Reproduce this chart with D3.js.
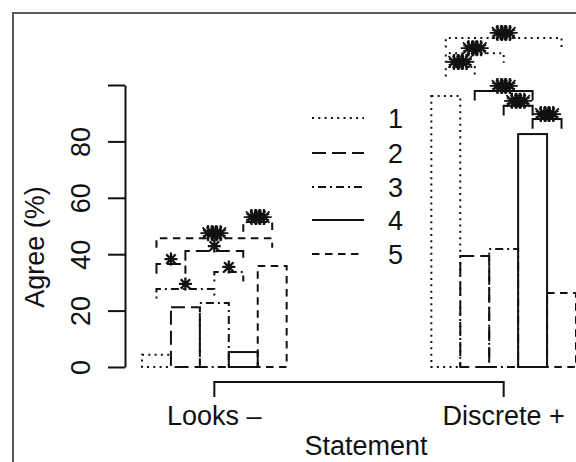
<!DOCTYPE html>
<html>
<head>
<meta charset="utf-8">
<script src="https://cdn.jsdelivr.net/npm/d3@7"></script>
<style>
  html, body { margin: 0; padding: 0; background: #fff; }
  svg { display: block; }
  text { font-family: "Liberation Sans", Arial, Helvetica, sans-serif; fill: #111; }
</style>
</head>
<body>
<svg id="chart" width="576" height="462"></svg>
<script>
// Statements and response groups
const categories = ["Looks \u2013", "Discrete +"];
const seriesNames = ["1", "2", "3", "4", "5"];

// Percent agreeing, per statement, for groups 1..5
const looksValues    = [4.3, 21.2, 22.7, 5.3, 35.8];
const discreteValues = [96.1, 39.4, 41.8, 82.6, 26.2];

// Y axis ticks
const yTickValues = [0, 20, 40, 60, 80, 100];
const yTickLabels = ["0", "20", "40", "60", "80", ""];

// Pairwise comparisons: [from group, to group, bracket height (%), significance]
const looksPairs = [
  [1, 2, 36.5, "*"],
  [1, 3, 27.7, "*"],
  [2, 4, 41.1, "*"],
  [3, 4, 33.7, "*"],
  [1, 5, 45.7, "***"],
  [4, 5, 51.4, "***"]
];
const discretePairs = [
  [1, 5, 116.7, "***"],
  [1, 3, 111.3, "***"],
  [1, 2, 106.4, "***"],
  [2, 4, 97.9, "***"],
  [3, 4, 92.6, "***"],
  [4, 5, 87.9, "***"]
];

const valuesByCategory = [looksValues, discreteValues];
const pairsByCategory = [looksPairs, discretePairs];

// Line type for each group: dotted, long dash, dot-dash, solid, dashed
const dashes = ["2,4.3", "14,6", "2,4,8,4", null, "7.5,5.5"];

const svg = d3.select("#chart");
const FONT = 27;

// Outer frame
svg.append("rect")
  .attr("x", 13).attr("y", 13).attr("width", 620).attr("height", 520)
  .attr("fill", "none").attr("stroke", "#5a5a5a").attr("stroke-width", 2);

const x0 = d3.scaleBand().domain(categories).range([142, 576]).paddingInner(0.5).paddingOuter(0);
const x1 = d3.scaleBand().domain(seriesNames).range([0, x0.bandwidth()]).padding(0);
const y = d3.scaleLinear().domain([0, 100]).range([367, 85]);

const ink = "#111";

// Bars: open rectangles outlined in each group's line type
categories.forEach((cat, ci) => {
  const g = svg.append("g").attr("transform", `translate(${x0(cat)},0)`);
  g.selectAll("rect")
    .data(valuesByCategory[ci].map((v, i) => ({ v, name: seriesNames[i], i })))
    .join("rect")
    .attr("x", d => x1(d.name))
    .attr("y", d => y(d.v))
    .attr("width", x1.bandwidth())
    .attr("height", d => y(0) - y(d.v))
    .attr("fill", "none")
    .attr("stroke", ink)
    .attr("stroke-width", 2)
    .attr("stroke-dasharray", d => dashes[d.i]);
});

// Asterisk glyph (plus and cross superimposed)
function starPath(r) {
  const d = r * 0.72;
  return `M${-r},0L${r},0M0,${-r}L0,${r}M${-d},${-d}L${d},${d}M${-d},${d}L${d},${-d}`;
}

// Significance brackets between pairs of groups
categories.forEach((cat, ci) => {
  const vals = valuesByCategory[ci];
  const g = svg.append("g");
  pairsByCategory[ci].forEach(([a, b, level, sig]) => {
    const xa = x0(cat) + x1(seriesNames[a - 1]) + x1.bandwidth() / 2;
    const xb = x0(cat) + x1(seriesNames[b - 1]) + x1.bandwidth() / 2;
    const top = y(level), leg = y(level - 3.4);
    const styleIdx = vals[a - 1] >= vals[b - 1] ? a - 1 : b - 1;
    g.append("path")
      .attr("d", `M${xa},${leg}L${xa},${top}L${xb},${top}L${xb},${leg}`)
      .attr("fill", "none").attr("stroke", ink).attr("stroke-width", 2)
      .attr("stroke-dasharray", dashes[styleIdx]);
    const cx = (xa + xb) / 2, cy = top - 5;
    if (sig.length === 1) {
      g.append("path")
        .attr("d", starPath(6.5))
        .attr("transform", `translate(${cx},${cy})`)
        .attr("fill", "none").attr("stroke", ink).attr("stroke-width", 2.3);
    } else {
      // several superimposed asterisks form the heavy mark
      const offsets = [-6, -4, -2, 0, 2, 4, 6];
      g.append("ellipse")
        .attr("cx", cx).attr("cy", cy).attr("rx", 9).attr("ry", 4.5)
        .attr("fill", ink);
      offsets.forEach((dx, k) => {
        g.append("path")
          .attr("d", starPath(8))
          .attr("transform", `translate(${cx + dx},${cy}) rotate(${k % 2 ? 22.5 : 0})`)
          .attr("fill", "none").attr("stroke", ink).attr("stroke-width", 1.8);
      });
    }
  });
});

// Y axis
const yAxis = d3.axisLeft(y)
  .tickValues(yTickValues)
  .tickFormat((d, i) => yTickLabels[i])
  .tickSize(17)
  .tickSizeOuter(0);
const ya = svg.append("g").attr("transform", "translate(125,0)").call(yAxis);
ya.select(".domain").attr("stroke", ink).attr("stroke-width", 2);
ya.selectAll(".tick line").attr("stroke", ink).attr("stroke-width", 2);
ya.selectAll(".tick text")
  .attr("x", 0).attr("y", 0).attr("dy", "0.36em")
  .attr("transform", "translate(-45,0) rotate(-90)")
  .attr("text-anchor", "middle")
  .style("font-size", FONT + "px")
  .style("font-family", "'Liberation Sans', Arial, sans-serif")
  .attr("fill", ink);

svg.append("text")
  .attr("transform", "translate(34,247) rotate(-90)")
  .attr("dy", "0.36em")
  .attr("text-anchor", "middle")
  .style("font-size", FONT + "px")
  .text("Agree (%)");

// X axis: line between the statement centres, ticks downward
const xCenters = categories.map(c => x0(c) + x0.bandwidth() / 2);
const xa = svg.append("g");
xa.append("path")
  .attr("d", `M${xCenters[0]},397L${xCenters[0]},382L${xCenters[1]},382L${xCenters[1]},397`)
  .attr("fill", "none").attr("stroke", ink).attr("stroke-width", 2);
xa.selectAll("text.cat")
  .data(categories)
  .join("text")
  .attr("class", "cat")
  .attr("x", (d, i) => xCenters[i])
  .attr("y", 425)
  .attr("text-anchor", "middle")
  .style("font-size", FONT + "px")
  .text(d => d);

svg.append("text")
  .attr("x", 366).attr("y", 455)
  .attr("text-anchor", "middle")
  .style("font-size", FONT + "px")
  .text("Statement");

// Legend
const legendY = [118, 153, 187, 220, 254];
const lg = svg.append("g");
seriesNames.forEach((name, i) => {
  lg.append("line")
    .attr("x1", 312).attr("x2", 364)
    .attr("y1", legendY[i]).attr("y2", legendY[i])
    .attr("stroke", ink).attr("stroke-width", 2)
    .attr("stroke-dasharray", dashes[i]);
  lg.append("text")
    .attr("x", 388).attr("y", legendY[i])
    .attr("dy", "0.36em")
    .style("font-size", FONT + "px")
    .text(name);
});
</script>
</body>
</html>
